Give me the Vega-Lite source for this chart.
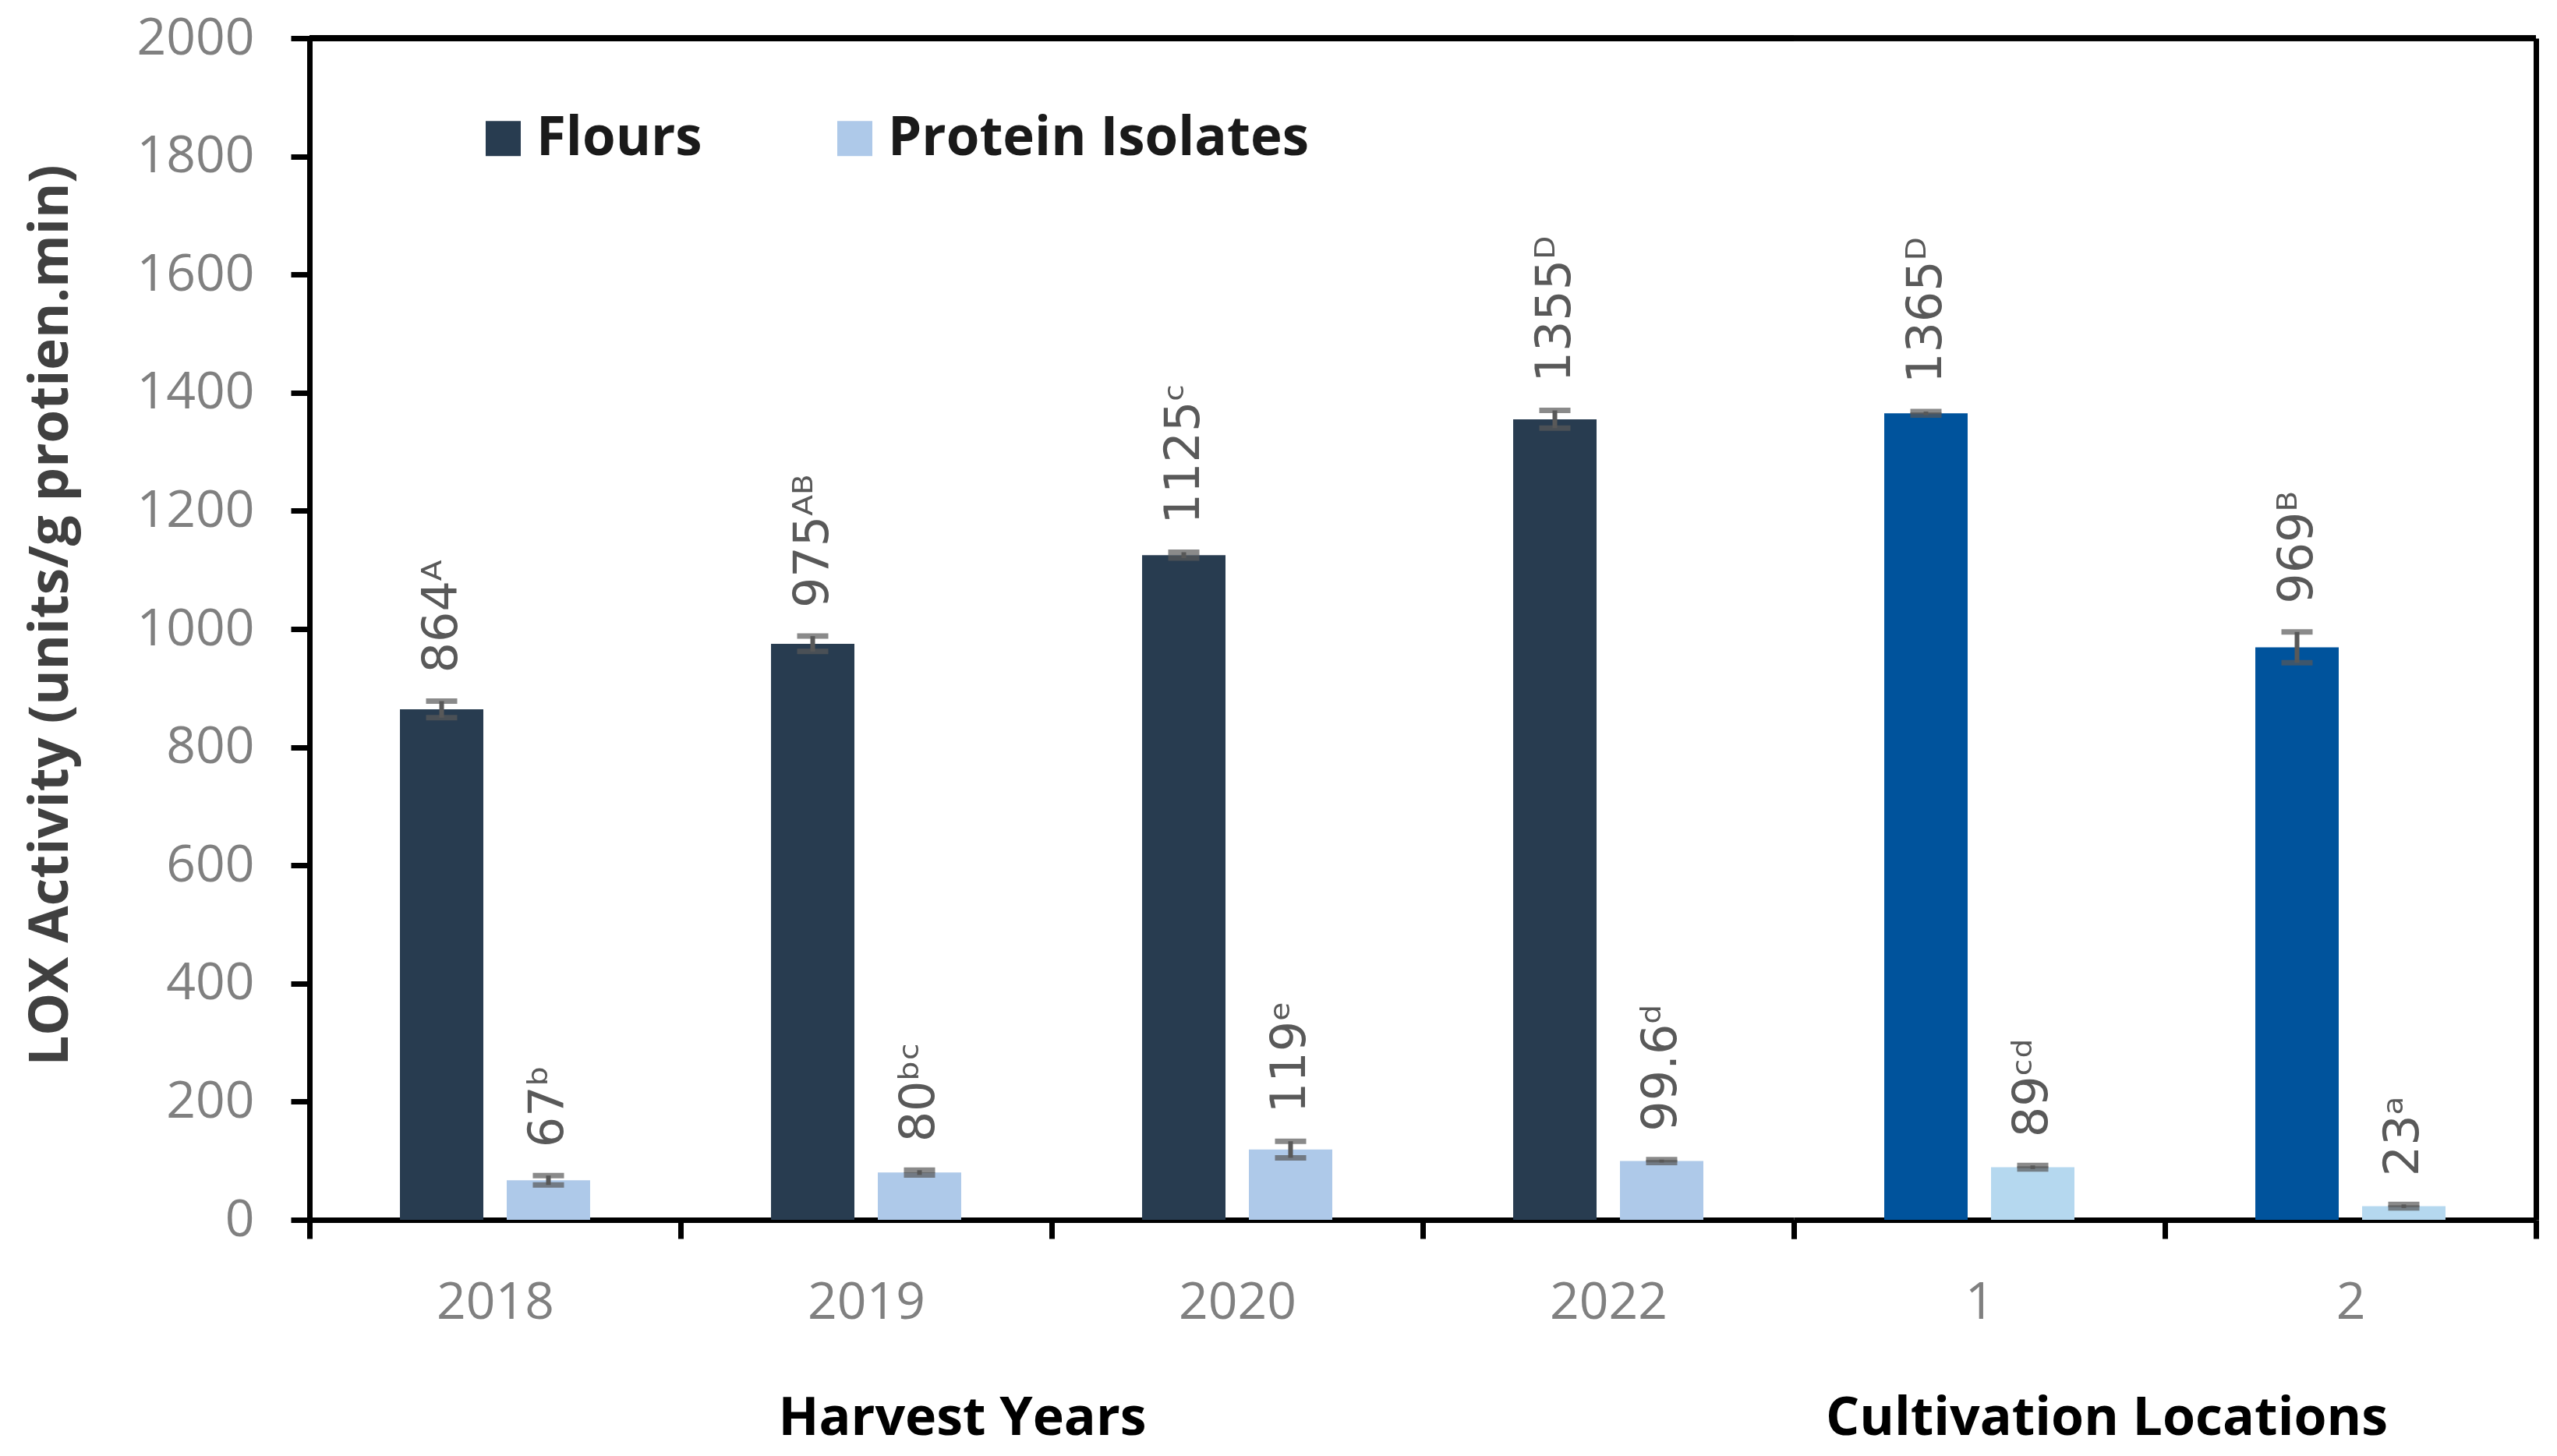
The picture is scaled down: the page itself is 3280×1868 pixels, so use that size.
{
  "$schema": "https://vega.github.io/schema/vega-lite/v6.json",
  "background": "white",
  "padding": {"left": 31, "top": 16, "right": 10, "bottom": 10},
  "datasets": {
    "years": [
      {"group": "2018", "type": "Flours", "value": 864, "lo": 850, "hi": 878, "label": "864ᴬ"},
      {"group": "2018", "type": "Protein Isolates", "value": 67, "lo": 59, "hi": 75, "label": "67ᵇ"},
      {"group": "2019", "type": "Flours", "value": 975, "lo": 962, "hi": 988, "label": "975ᴬᴮ"},
      {"group": "2019", "type": "Protein Isolates", "value": 80, "lo": 76, "hi": 84, "label": "80ᵇᶜ"},
      {"group": "2020", "type": "Flours", "value": 1125, "lo": 1120, "hi": 1130, "label": "1125ᶜ"},
      {"group": "2020", "type": "Protein Isolates", "value": 119, "lo": 105, "hi": 133, "label": "119ᵉ"},
      {"group": "2022", "type": "Flours", "value": 1355, "lo": 1340, "hi": 1370, "label": "1355ᴰ"},
      {"group": "2022", "type": "Protein Isolates", "value": 99.6, "lo": 97, "hi": 102, "label": "99.6ᵈ"}
    ],
    "locations": [
      {"group": "1", "type": "Flours", "value": 1365, "lo": 1362, "hi": 1368, "label": "1365ᴰ"},
      {"group": "1", "type": "Protein Isolates", "value": 89, "lo": 86, "hi": 92, "label": "89ᶜᵈ"},
      {"group": "2", "type": "Flours", "value": 969, "lo": 943, "hi": 995, "label": "969ᴮ"},
      {"group": "2", "type": "Protein Isolates", "value": 23, "lo": 20, "hi": 26, "label": "23ᵃ"}
    ]
  },
  "config": {
    "font": "Open Sans",
    "view": {"stroke": null},
    "axis": {
      "grid": false,
      "labelFont": "Open Sans",
      "labelFontSize": 66,
      "labelColor": "#808080",
      "domainColor": "black",
      "domainWidth": 7,
      "tickColor": "black",
      "tickWidth": 7,
      "tickSize": 24,
      "titleFont": "Open Sans",
      "titleFontWeight": "bold",
      "titleColor": "black"
    }
  },
  "spacing": 0,
  "bounds": "flush",
  "resolve": {"scale": {"color": "independent"}},
  "hconcat": [
    {
      "width": 1904,
      "height": 1516,
      "data": {"name": "years"},
      "layer": [
        {
          "mark": {"type": "rule", "color": "black", "strokeWidth": 7},
          "encoding": {"y": {"datum": 2000, "type": "quantitative", "scale": {"domain": [0, 2000], "nice": false}}}
        },
        {
          "mark": {"type": "bar"},
          "encoding": {
            "x": {
              "field": "group", "type": "nominal", "sort": null,
              "scale": {"paddingInner": 0, "paddingOuter": 0},
              "axis": {"labelAngle": 0, "tickBand": "extent", "labelPadding": 50, "title": "Harvest Years", "titleFontSize": 68, "titleX": 837, "titleY": 255, "titleBaseline": "middle", "titleAnchor": null}
            },
            "xOffset": {"field": "type", "type": "nominal", "sort": ["Flours", "Protein Isolates"], "scale": {"paddingInner": 0.219, "paddingOuter": 0.847}},
            "y": {
              "field": "value", "type": "quantitative",
              "scale": {"domain": [0, 2000], "nice": false},
              "axis": {"values": [0, 200, 400, 600, 800, 1000, 1200, 1400, 1600, 1800, 2000], "format": "d", "labelPadding": 47, "title": "LOX Activity (units/g protien.min)", "titleFontSize": 69, "titleColor": "#404040", "titleX": -332, "titleY": 740, "titleAlign": "center", "titleBaseline": "middle"}
            },
            "color": {
              "field": "type", "type": "nominal",
              "scale": {"domain": ["Flours", "Protein Isolates"], "range": ["#283C50", "#AEC9E9"]},
              "legend": {"orient": "none", "legendX": 214, "legendY": 94, "direction": "horizontal", "title": null, "symbolType": "square", "symbolSize": 2025, "symbolStrokeWidth": 0, "labelFont": "Open Sans", "labelFontSize": 69, "labelFontWeight": "bold", "labelColor": "#1a1a1a", "labelOffset": 8, "labelLimit": 2000, "columnPadding": 161}
            }
          }
        },
        {
          "mark": {"type": "rule", "color": "#595959", "strokeWidth": 6},
          "encoding": {
            "x": {"field": "group", "type": "nominal", "sort": null},
            "xOffset": {"field": "type", "type": "nominal", "sort": ["Flours", "Protein Isolates"]},
            "y": {"field": "lo", "type": "quantitative"},
            "y2": {"field": "hi"}
          }
        },
        {
          "mark": {"type": "tick", "color": "#595959", "size": 40, "thickness": 7, "orient": "horizontal"},
          "encoding": {
            "x": {"field": "group", "type": "nominal", "sort": null},
            "xOffset": {"field": "type", "type": "nominal", "sort": ["Flours", "Protein Isolates"]},
            "y": {"field": "lo", "type": "quantitative"}
          }
        },
        {
          "mark": {"type": "tick", "color": "#595959", "size": 40, "thickness": 7, "orient": "horizontal"},
          "encoding": {
            "x": {"field": "group", "type": "nominal", "sort": null},
            "xOffset": {"field": "type", "type": "nominal", "sort": ["Flours", "Protein Isolates"]},
            "y": {"field": "hi", "type": "quantitative"}
          }
        },
        {
          "mark": {"type": "text", "angle": 270, "align": "left", "baseline": "middle", "dx": 36, "font": "DejaVu Sans", "fontSize": 62, "color": "#595959"},
          "encoding": {
            "x": {"field": "group", "type": "nominal", "sort": null},
            "xOffset": {"field": "type", "type": "nominal", "sort": ["Flours", "Protein Isolates"]},
            "y": {"field": "hi", "type": "quantitative"},
            "text": {"field": "label"}
          }
        }
      ]
    },
    {
      "width": 952,
      "height": 1516,
      "data": {"name": "locations"},
      "layer": [
        {
          "mark": {"type": "rule", "color": "black", "strokeWidth": 7},
          "encoding": {"y": {"datum": 2000, "type": "quantitative", "scale": {"domain": [0, 2000], "nice": false}}}
        },
        {
          "mark": {"type": "bar"},
          "encoding": {
            "x": {
              "field": "group", "type": "nominal", "sort": null,
              "scale": {"paddingInner": 0, "paddingOuter": 0},
              "axis": {"labelAngle": 0, "tickBand": "extent", "labelPadding": 50, "title": "Cultivation Locations", "titleFontSize": 68, "titleX": 401, "titleY": 255, "titleBaseline": "middle", "titleAnchor": null}
            },
            "xOffset": {"field": "type", "type": "nominal", "sort": ["Flours", "Protein Isolates"], "scale": {"paddingInner": 0.219, "paddingOuter": 0.847}},
            "y": {
              "field": "value", "type": "quantitative",
              "scale": {"domain": [0, 2000], "nice": false},
              "axis": {"orient": "right", "labels": false, "ticks": false, "title": null}
            },
            "color": {
              "field": "type", "type": "nominal",
              "scale": {"domain": ["Flours", "Protein Isolates"], "range": ["#00539C", "#B5D8EF"]},
              "legend": null
            }
          }
        },
        {
          "mark": {"type": "rule", "color": "#595959", "strokeWidth": 6},
          "encoding": {
            "x": {"field": "group", "type": "nominal", "sort": null},
            "xOffset": {"field": "type", "type": "nominal", "sort": ["Flours", "Protein Isolates"]},
            "y": {"field": "lo", "type": "quantitative"},
            "y2": {"field": "hi"}
          }
        },
        {
          "mark": {"type": "tick", "color": "#595959", "size": 40, "thickness": 7, "orient": "horizontal"},
          "encoding": {
            "x": {"field": "group", "type": "nominal", "sort": null},
            "xOffset": {"field": "type", "type": "nominal", "sort": ["Flours", "Protein Isolates"]},
            "y": {"field": "lo", "type": "quantitative"}
          }
        },
        {
          "mark": {"type": "tick", "color": "#595959", "size": 40, "thickness": 7, "orient": "horizontal"},
          "encoding": {
            "x": {"field": "group", "type": "nominal", "sort": null},
            "xOffset": {"field": "type", "type": "nominal", "sort": ["Flours", "Protein Isolates"]},
            "y": {"field": "hi", "type": "quantitative"}
          }
        },
        {
          "mark": {"type": "text", "angle": 270, "align": "left", "baseline": "middle", "dx": 36, "font": "DejaVu Sans", "fontSize": 62, "color": "#595959"},
          "encoding": {
            "x": {"field": "group", "type": "nominal", "sort": null},
            "xOffset": {"field": "type", "type": "nominal", "sort": ["Flours", "Protein Isolates"]},
            "y": {"field": "hi", "type": "quantitative"},
            "text": {"field": "label"}
          }
        }
      ]
    }
  ]
}
